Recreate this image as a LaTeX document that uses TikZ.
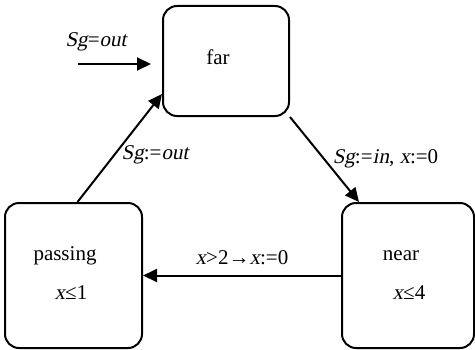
\documentclass[tikz,border=0pt]{standalone}
\usepackage{fontspec}
\setmainfont{Liberation Serif}[ItalicFont={Liberation Serif}, ItalicFeatures={FakeSlant=0.2}]
\usepackage{tikz}
\usetikzlibrary{arrows.meta, positioning}

\begin{document}
\begin{tikzpicture}[
  x=0.5pt, y=0.5pt,
  font=\fontsize{10.5}{12}\selectfont,
  statebox/.style={rectangle, draw=black, rounded corners=7pt, line width=1pt,
                   inner sep=0pt},
  lbl/.style={inner sep=1pt},
  arrow/.style={-{Triangle[length=7pt, width=6.5pt]}, line width=1pt}
]
\useasboundingbox (0,0) rectangle (475,349);

% locations
\node[statebox, minimum width=63pt, minimum height=55pt] (far) at (226,288) {};
\node[statebox, minimum width=68.5pt, minimum height=72.5pt] (passing) at (73.5,73.5) {};
\node[statebox, minimum width=66pt, minimum height=72.5pt] (near) at (408,73.5) {};

% location texts
\node[lbl] (farname) at ([xshift=-4pt, yshift=2pt]far.center) {far};
\node[lbl] (passingname) at ([xshift=-4.25pt, yshift=9.75pt]passing.center) {passing};
\node[lbl] (passinginv) at ([xshift=-1.25pt, yshift=-8.75pt]passing.center) {\textit{x}≤1};
\node[lbl] (nearname) at ([xshift=-3.5pt, yshift=9.75pt]near.center) {near};
\node[lbl] (nearinv) at ([xshift=0.5pt, yshift=-8.75pt]near.center) {\textit{x}≤4};

% initial edge
\coordinate (init) at (78,285);
\node[lbl] (initlabel) at (96,307) {\textit{Sg}=\textit{out}};
\draw[arrow, shorten >=5.5pt] (init) -- (init -| far.west);

% transitions
\draw[arrow] ([xshift=2pt]passing.north) -- node[lbl, right=2pt, pos=.44] {\textit{Sg}:=\textit{out}} ([yshift=-16.5pt]far.west);
\draw[arrow] (far.south east) -- node[lbl, right=3pt, pos=.49] {\textit{Sg}:=\textit{in}, \textit{x}:=0} ([xshift=9pt]near.north west);
\draw[arrow] (near.west) -- node[lbl, above=4pt] {\textit{x}>2→\textit{x}:=0} (passing.east);
\end{tikzpicture}
\end{document}
